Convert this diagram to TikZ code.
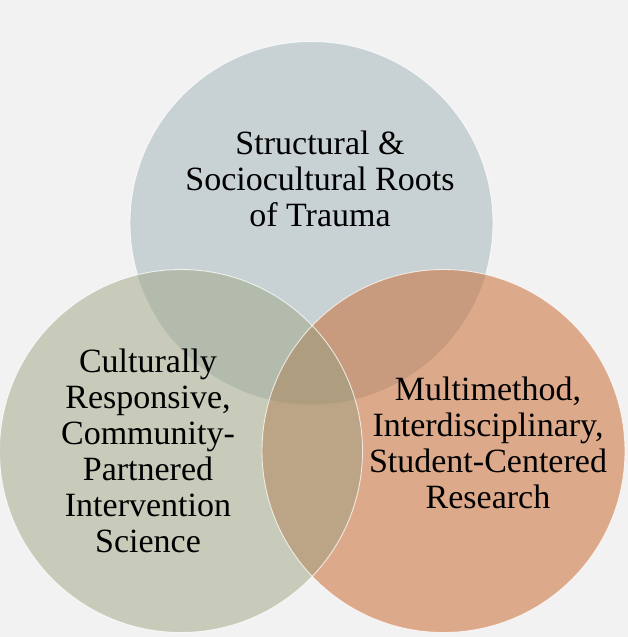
\documentclass[tikz,border=0pt]{standalone}
\usepackage{fontspec}
\setmainfont{Liberation Serif}
\usetikzlibrary{positioning}
\definecolor{bgc}{HTML}{F2F2F2}
\definecolor{rootsc}{HTML}{C8D1D4}
\definecolor{scic}{HTML}{C8CABA}
\definecolor{resc}{HTML}{DDA98B}
\definecolor{rootsscic}{HTML}{B3BCAC}
\definecolor{rootsresc}{HTML}{C99B7E}
\definecolor{scirestc}{HTML}{BCA486}
\definecolor{allc}{HTML}{AF9D7F}
\def\myrad{181.5}
\tikzset{
venn/.style={circle,minimum size=363pt,inner sep=0pt},
rim/.style={draw=white,draw opacity=0.75,line width=0.9pt},
label text/.style={align=center,font=\fontsize{34}{36}\selectfont,inner sep=0pt}
}
\begin{document}
\begin{tikzpicture}[x=1pt,y=-1pt]
\fill[bgc] (0,0) rectangle (628,637);
\useasboundingbox (0,0) rectangle (628,637);
% the three circles
\node[venn,fill=rootsc,rim] (roots) at (311.5,223) {};
\node[venn,fill=scic]       (sci)   at (181,451) {};
\node[venn,fill=resc]       (res)   at (443.5,451) {};
% overlaps
\begin{scope}
  \clip (roots.center) circle[radius=\myrad];
  \fill[rootsscic] (sci.center) circle[radius=\myrad];
  \fill[rootsresc] (res.center) circle[radius=\myrad];
\end{scope}
\begin{scope}
  \clip (sci.center) circle[radius=\myrad];
  \fill[scirestc] (res.center) circle[radius=\myrad];
  \clip (res.center) circle[radius=\myrad];
  \fill[allc] (roots.center) circle[radius=\myrad];
\end{scope}
\draw[rim] (sci.center) circle[radius=\myrad];
\draw[rim] (res.center) circle[radius=\myrad];
% texts
\node[label text] (rootstext) at (320,179) {Structural \&\\Sociocultural Roots\\of Trauma};
\node[label text] (scitext)   at (148,451) {Culturally\\Responsive,\\Community-\\Partnered\\Intervention\\Science};
\node[label text] (restext)   at (488,443) {Multimethod,\\Interdisciplinary,\\Student-Centered\\Research};
\end{tikzpicture}
\end{document}
